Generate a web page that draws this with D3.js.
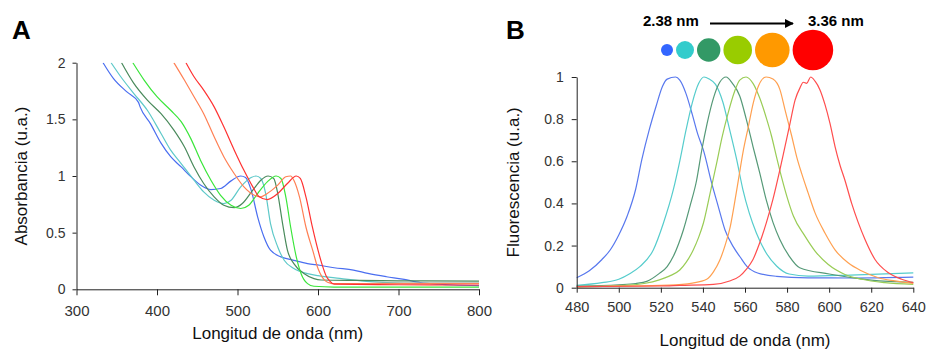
<!DOCTYPE html>
<html>
<head>
<meta charset="utf-8">
<script src="https://cdn.jsdelivr.net/npm/d3@7"></script>
<style>
  body { margin: 0; background: #fff; }
  svg { display: block; font-family: "Liberation Sans", Arial, sans-serif; }
  .tick text { fill: #333; }
  .domain, .tick line { stroke: #222; }
</style>
</head>
<body>
<div id="chart"></div>
<script>
// ---- data ----
const absTicksX = [300, 400, 500, 600, 700, 800];
const absTicksY = [0, 0.5, 1, 1.5, 2];
const fluoTicksX = [480, 500, 520, 540, 560, 580, 600, 620, 640];
const fluoTicksY = [0, 0.2, 0.4, 0.6, 0.8, 1];
const sizeLabels = ["2.38 nm", "3.36 nm"];

// absorbance spectra [nm, a.u.]
const absBlue = [[333,2.0],[346,1.86],[363,1.74],[377,1.65],[379,1.61],[392,1.46],[405,1.29],[417,1.17],[430,1.08],[442,0.994],[454,0.92],[467,0.88],[479,0.89],[492,0.957],[504,1.0],[510,0.987],[517,0.875],[525,0.64],[533,0.46],[541,0.345],[554,0.286],[570,0.256],[587,0.227],[602,0.212],[620,0.19],[644,0.17],[662,0.14],[685,0.111],[705,0.09],[727,0.06],[750,0.045],[768,0.038],[800,0.033]];
const absCyan = [[343,2.0],[355,1.876],[371,1.73],[388,1.58],[405,1.375],[417,1.228],[430,1.11],[446,0.963],[458,0.86],[471,0.786],[483,0.757],[492,0.786],[504,0.904],[517,0.987],[523,1.0],[529,0.978],[535,0.845],[541,0.58],[550,0.374],[558,0.256],[570,0.183],[587,0.138],[600,0.12],[627,0.097],[665,0.067],[706,0.055],[750,0.055],[800,0.055]];
const absDkGreen = [[356,2.0],[371,1.82],[388,1.67],[405,1.55],[421,1.405],[434,1.258],[446,1.08],[458,0.934],[471,0.816],[483,0.742],[496,0.72],[506,0.757],[519,0.875],[529,0.963],[538,1.0],[545,0.978],[550,0.845],[556,0.58],[562,0.345],[570,0.227],[583,0.138],[595,0.094],[604,0.082],[650,0.078],[700,0.075],[800,0.072]];
const absGreen = [[370,2.0],[384,1.847],[400,1.7],[417,1.58],[430,1.48],[442,1.33],[454,1.14],[467,0.963],[479,0.83],[492,0.742],[504,0.713],[514,0.742],[525,0.845],[537,0.948],[548,1.0],[554,0.978],[560,0.816],[566,0.55],[573,0.286],[579,0.138],[587,0.05],[595,0.027],[620,0.02],[700,0.02],[800,0.02]];
const absOrange = [[421,2.0],[434,1.847],[446,1.7],[458,1.55],[471,1.346],[483,1.17],[496,1.02],[508,0.904],[521,0.83],[529,0.816],[537,0.845],[550,0.919],[560,0.993],[566,1.0],[570,0.963],[577,0.816],[585,0.55],[594,0.33],[600,0.183],[605,0.11],[610,0.07],[615,0.055],[620,0.05],[700,0.052],[800,0.052]];
const absRed = [[436,2.0],[446,1.876],[458,1.758],[471,1.61],[483,1.434],[496,1.228],[508,1.05],[519,0.904],[527,0.816],[537,0.792],[550,0.845],[562,0.934],[573,1.0],[578,0.978],[585,0.816],[593,0.55],[600,0.345],[605,0.22],[610,0.12],[615,0.07],[620,0.045],[700,0.04],[800,0.038]];

// fluorescence spectra [nm, a.u.]
const fluoBlue = [[480,0.047],[486,0.08],[492,0.134],[496,0.18],[500,0.25],[504,0.34],[508,0.466],[511,0.61],[514.5,0.75],[517.7,0.86],[520.8,0.956],[523,0.99],[527,1.0],[529,0.985],[532,0.92],[535,0.82],[537.5,0.73],[540.2,0.654],[544.2,0.495],[547.3,0.385],[550.5,0.274],[554.4,0.195],[557.6,0.147],[561,0.1],[566,0.07],[575,0.054],[590,0.047],[610,0.046],[640,0.05]];
const fluoCyan = [[480,0.011],[492,0.024],[500,0.04],[505,0.065],[510,0.1],[516.4,0.179],[521.2,0.306],[525.9,0.464],[529.1,0.606],[532,0.75],[535,0.88],[538,0.97],[540.5,1.0],[543,0.99],[546,0.965],[549.5,0.88],[552.7,0.75],[556,0.61],[559,0.466],[562,0.355],[565.4,0.26],[570,0.166],[575,0.103],[581,0.065],[590,0.055],[610,0.06],[640,0.07]];
const fluoDkGreen = [[480,0.008],[500,0.014],[508,0.02],[513.3,0.03],[519.3,0.068],[523,0.1],[526,0.15],[528.5,0.21],[530.7,0.274],[533.8,0.385],[537,0.51],[539.4,0.65],[542,0.78],[545,0.9],[548,0.975],[551,1.0],[554,0.97],[557.5,0.91],[560.6,0.8],[563.8,0.67],[567,0.545],[570,0.42],[573.3,0.31],[576.5,0.23],[581,0.15],[586,0.095],[600,0.065],[620,0.036],[640,0.025]];
const fluoYGreen = [[480,0.004],[505,0.012],[512,0.02],[519.3,0.037],[524,0.055],[529,0.084],[532,0.12],[535.4,0.179],[538,0.24],[540.2,0.306],[543.4,0.448],[546.5,0.59],[549,0.71],[552,0.83],[555,0.93],[557.5,0.985],[560.5,1.0],[563.8,0.97],[567,0.9],[570.3,0.8],[572.6,0.72],[575,0.62],[577.5,0.52],[580,0.43],[583,0.34],[588.5,0.245],[593.3,0.174],[599.6,0.11],[607.5,0.063],[615.5,0.04],[626.5,0.024],[640,0.016]];
const fluoOrange = [[480,0.005],[524,0.012],[535,0.022],[541.8,0.04],[545,0.075],[548,0.13],[550.5,0.2],[553,0.29],[555,0.4],[557,0.52],[559,0.64],[561.5,0.76],[564,0.88],[566.5,0.96],[570,1.0],[573.3,0.99],[576.6,0.94],[579,0.845],[582.2,0.72],[584.6,0.62],[587,0.54],[590,0.45],[593.3,0.355],[598,0.26],[602.8,0.18],[609,0.118],[615.5,0.079],[623.4,0.047],[631.3,0.032],[640,0.02]];
const fluoRed = [[480,0.005],[520,0.008],[529,0.011],[545,0.016],[552.7,0.032],[557.5,0.055],[560.6,0.087],[563.8,0.134],[567,0.213],[570.2,0.31],[573.3,0.42],[576.6,0.56],[579,0.67],[581.4,0.78],[583.8,0.89],[586.2,0.95],[587.7,0.975],[589.3,0.97],[591.2,1.0],[593.3,0.98],[595.6,0.94],[598,0.87],[600.4,0.78],[602.8,0.67],[605.2,0.58],[607.5,0.51],[610.7,0.4],[613.8,0.31],[617,0.23],[621.8,0.134],[628.2,0.071],[634.5,0.04],[640,0.024]];

const absSeries = [absBlue, absCyan, absDkGreen, absGreen, absOrange, absRed];
const fluoSeries = [fluoBlue, fluoCyan, fluoDkGreen, fluoYGreen, fluoOrange, fluoRed];

// ---- styles ----
const absColors = ["#4a6ef0", "#5ec9c9", "#4a8a5c", "#3be63b", "#ff8055", "#ff3232"];
const fluoColors = ["#5878ee", "#55cccc", "#559977", "#99cc55", "#ffa050", "#ff4d4d"];
const dotColors = ["#3366ff", "#33cccc", "#339966", "#99cc00", "#ff9900", "#ff0000"];
const dotRadius = [6, 9, 11.7, 14.3, 17.3, 20.3];

const W = 927, H = 350;
const svg = d3.select("#chart").append("svg")
    .attr("width", W)
    .attr("height", H);

// ---- panel A ----
const xA = d3.scaleLinear().domain([300, 800]).range([76.5, 479]);
const yA = d3.scaleLinear().domain([0, 2]).range([289.3, 62.7]);

svg.append("clipPath").attr("id", "clipA")
  .append("rect")
    .attr("x", xA(300)).attr("y", yA(2))
    .attr("width", xA(800) - xA(300) + 2).attr("height", yA(0) - yA(2));

const lineA = d3.line()
    .x(d => xA(d[0]))
    .y(d => yA(d[1]))
    .curve(d3.curveMonotoneX);

svg.append("g").attr("clip-path", "url(#clipA)")
  .selectAll("path")
  .data(absSeries)
  .join("path")
    .attr("d", lineA)
    .attr("fill", "none")
    .attr("stroke", (d, i) => absColors[i])
    .attr("stroke-width", 1.2);

svg.append("g")
    .attr("transform", `translate(0,${yA(0)})`)
    .call(d3.axisBottom(xA).tickValues(absTicksX).tickSize(6).tickSizeOuter(0).tickPadding(10))
    .call(g => g.selectAll("text").style("font-size", "15px"));

svg.append("g")
    .attr("transform", `translate(${xA(300)},0)`)
    .call(d3.axisLeft(yA).tickValues(absTicksY).tickSize(4).tickSizeOuter(0).tickPadding(7).tickFormat(d3.format("")))
    .call(g => g.selectAll("text").style("font-size", "14px"));

svg.append("text")
    .attr("x", (xA(300) + xA(800)) / 2)
    .attr("y", 339)
    .attr("text-anchor", "middle")
    .style("font-size", "17px")
    .attr("fill", "#111")
    .text("Longitud de onda (nm)");

svg.append("text")
    .attr("transform", `translate(27,${(yA(0) + yA(2)) / 2}) rotate(-90)`)
    .attr("text-anchor", "middle")
    .style("font-size", "17px")
    .attr("fill", "#111")
    .text("Absorbancia (u.a.)");

svg.append("text")
    .attr("x", 12).attr("y", 39)
    .style("font-size", "26px").style("font-weight", "bold")
    .text("A");

// ---- panel B ----
const xB = d3.scaleLinear().domain([480, 640]).range([576.7, 913.3]);
const yB = d3.scaleLinear().domain([0, 1]).range([287.7, 77]);

const lineB = d3.line()
    .x(d => xB(d[0]))
    .y(d => yB(d[1]))
    .curve(d3.curveMonotoneX);

svg.append("g")
  .selectAll("path")
  .data(fluoSeries)
  .join("path")
    .attr("d", lineB)
    .attr("fill", "none")
    .attr("stroke", (d, i) => fluoColors[i])
    .attr("stroke-width", 1.2);

svg.append("g")
    .attr("transform", `translate(0,${yB(0)})`)
    .call(d3.axisBottom(xB).tickValues(fluoTicksX).tickSize(5).tickSizeOuter(0).tickPadding(9))
    .call(g => g.selectAll("text").style("font-size", "14.5px"));

svg.append("g")
    .attr("transform", `translate(${xB(480)},0)`)
    .call(d3.axisLeft(yB).tickValues(fluoTicksY).tickSize(5).tickSizeOuter(0).tickPadding(8).tickFormat(d3.format("")))
    .call(g => g.selectAll("text").style("font-size", "14px"));

svg.append("text")
    .attr("x", (xB(480) + xB(640)) / 2)
    .attr("y", 346)
    .attr("text-anchor", "middle")
    .style("font-size", "17px")
    .attr("fill", "#111")
    .text("Longitud de onda (nm)");

svg.append("text")
    .attr("transform", `translate(519,${(yB(0) + yB(1)) / 2}) rotate(-90)`)
    .attr("text-anchor", "middle")
    .style("font-size", "17px")
    .attr("fill", "#111")
    .text("Fluorescencia (u.a.)");

svg.append("text")
    .attr("x", 506).attr("y", 39)
    .style("font-size", "26px").style("font-weight", "bold")
    .text("B");

// size legend: dots and arrow
const gap = 3;
let cx = 661;
const dots = dotRadius.map(r => { const c = cx + r; cx += 2 * r + gap; return c; });

svg.append("g")
  .selectAll("circle")
  .data(dotColors)
  .join("circle")
    .attr("cx", (d, i) => dots[i])
    .attr("cy", 50)
    .attr("r", (d, i) => dotRadius[i])
    .attr("fill", d => d);

svg.append("text")
    .attr("x", 643).attr("y", 26)
    .style("font-size", "15px").style("font-weight", "bold")
    .text(sizeLabels[0]);

svg.append("text")
    .attr("x", 808).attr("y", 26)
    .style("font-size", "15px").style("font-weight", "bold")
    .text(sizeLabels[1]);

svg.append("defs").append("marker")
    .attr("id", "arrow")
    .attr("viewBox", "0 0 10 10")
    .attr("refX", 9).attr("refY", 5)
    .attr("markerWidth", 4.5).attr("markerHeight", 4.5)
    .attr("orient", "auto")
  .append("path")
    .attr("d", "M0,0L10,5L0,10Z")
    .attr("fill", "#000");

svg.append("line")
    .attr("x1", 710).attr("y1", 23.5)
    .attr("x2", 793).attr("y2", 23.5)
    .attr("stroke", "#000")
    .attr("stroke-width", 2)
    .attr("marker-end", "url(#arrow)");
</script>
</body>
</html>
